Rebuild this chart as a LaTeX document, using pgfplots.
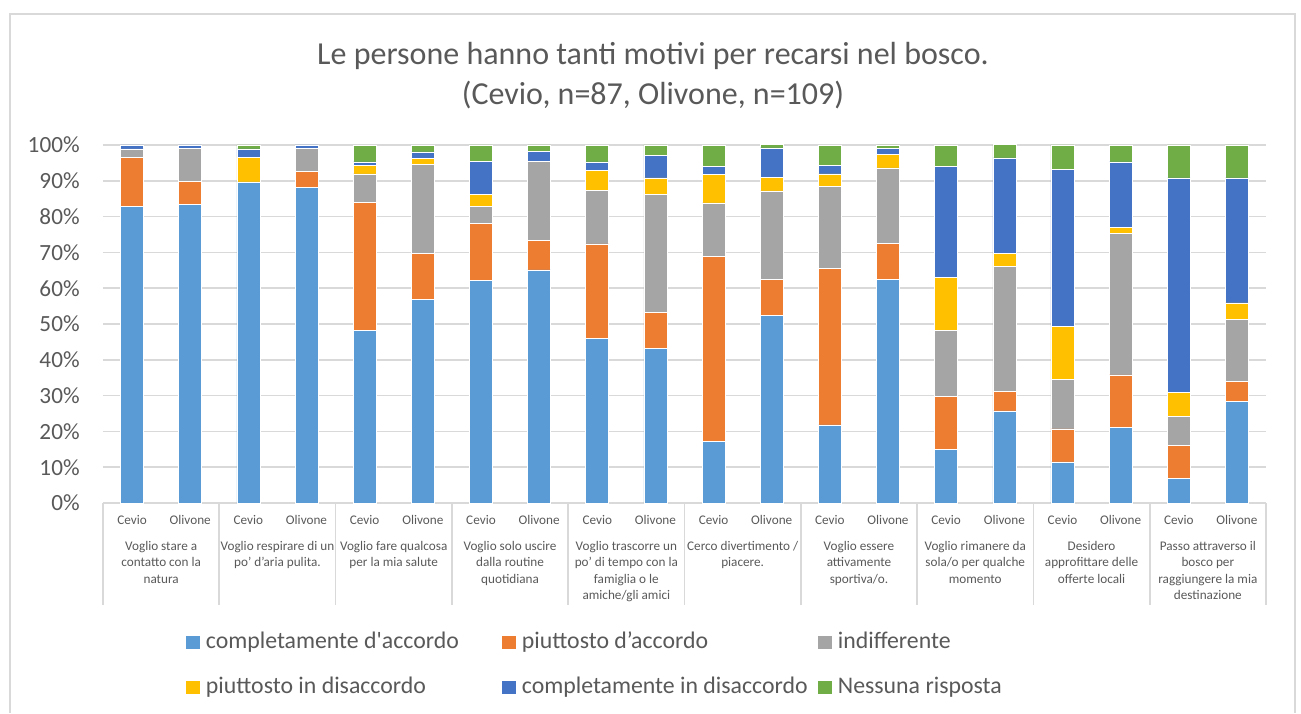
\documentclass[border=0pt]{standalone}
\usepackage{fontspec}
\setmainfont{Carlito}
\usepackage{pgfplots}
\usepackage{pgfplotstable}
\pgfplotsset{compat=1.18}

\definecolor{cA}{HTML}{5B9BD5}
\definecolor{cB}{HTML}{ED7D31}
\definecolor{cC}{HTML}{A5A5A5}
\definecolor{cD}{HTML}{FFC000}
\definecolor{cE}{HTML}{4472C4}
\definecolor{cF}{HTML}{70AD47}
\definecolor{txt}{HTML}{595959}
\definecolor{gridc}{HTML}{D9D9D9}

% percent of answers, Cevio (n=87) and Olivone (n=109) alternating
\pgfplotstableread{
x  a     b     c     d     e     f
0  82.8  13.8  2.3   0     1.1   0
1  83.5  6.4   9.2   0     0.9   0
2  89.7  0     0     6.9   2.3   1.1
3  88.1  4.6   6.4   0     0.9   0
4  48.3  35.6  8.0   2.3   1.1   4.6
5  56.9  12.8  24.8  1.8   1.8   1.8
6  62.1  16.1  4.6   3.4   9.2   4.6
7  65.1  8.3   22.0  0     2.8   1.8
8  46.0  26.4  14.9  5.7   2.3   4.6
9  43.1  10.1  33.0  4.6   6.4   2.8
10 17.2  51.7  14.9  8.0   2.3   5.7
11 52.3  10.1  24.8  3.7   8.3   0.9
12 21.8  43.7  23.0  3.4   2.3   5.7
13 62.4  10.1  21.1  3.7   1.8   0.9
14 14.9  14.9  18.4  14.9  31.0  5.7
15 25.7  5.5   34.9  3.7   26.6  3.7
16 11.5  9.2   13.8  14.9  43.7  6.9
17 21.1  14.7  39.4  1.8   18.3  4.6
18 6.9   9.2   8.0   6.9   59.8  9.2
19 28.4  5.5   17.4  4.6   34.9  9.2
}\data

\newcommand{\catfont}{\fontsize{6.6}{8.15}\selectfont}
\tikzset{grp/.style={anchor=north, align=center, inner sep=0pt,
    font=\catfont, text=txt, yshift=-19pt}}

\begin{document}
\begin{tikzpicture}
\path[use as bounding box] (0,0) rectangle (650.5pt,356.5pt);
\draw[gridc, line width=0.8pt] (5pt,0) -- (5pt,349.5pt) -- (647.5pt,349.5pt) -- (647.5pt,0);

\node[text=txt, anchor=base, font=\fontsize{16}{20}\selectfont] at (326.5pt,324pt)
  {Le persone hanno tanti motivi per recarsi nel bosco.};
\node[text=txt, anchor=base, font=\fontsize{16}{20}\selectfont] at (326.5pt,304pt)
  {(Cevio, n=87, Olivone, n=109)};

\begin{axis}[
    at={(51.5pt,105pt)}, anchor=south west,
    scale only axis, width=581.5pt, height=179pt,
    ybar stacked, bar width=0.396,
    xmin=-0.5, xmax=19.5, ymin=0, ymax=100,
    clip=false,
    axis line style={draw=none},
    major tick length=0pt,
    ytick={0,10,...,100},
    yticklabel={\pgfmathprintnumber{\tick}\%},
    /pgf/number format/assume math mode=true,
    ymajorgrids, grid style={gridc, line width=0.8pt},
    yticklabel style={anchor=east, inner sep=0pt, xshift=-11.5pt,
        font=\fontsize{11.6}{14}\selectfont, text=txt},
    xtick={0,...,19},
    xticklabels={Cevio,Olivone,Cevio,Olivone,Cevio,Olivone,Cevio,Olivone,Cevio,Olivone,
                 Cevio,Olivone,Cevio,Olivone,Cevio,Olivone,Cevio,Olivone,Cevio,Olivone},
    xticklabel style={anchor=center, inner sep=0pt, yshift=-8.5pt,
        font=\catfont, text=txt},
    legend columns=3,
    legend cell align=left,
    legend image code/.code={\fill[#1, draw=none] (0pt,-3.25pt) rectangle (6.75pt,3.25pt);},
    legend style={draw=none, inner sep=0pt, column sep=0pt, row sep=12pt,
        at={(axis description cs:0,0)}, anchor=north west,
        xshift=41.5pt, yshift=-64.5pt,
        cells={anchor=west},
        nodes={inner sep=0pt, text height=8pt, text depth=2.5pt,
               font=\fontsize{11.9}{14}\selectfont, text=txt}},
]
\addplot[fill=cA, draw=white, line width=0.3pt] table[x=x, y=a] {\data};
\addlegendentry{\makebox[151.25pt][l]{\hspace*{3pt}completamente d\textquotesingle accordo}}
\addplot[fill=cB, draw=white, line width=0.3pt] table[x=x, y=b] {\data};
\addlegendentry{\makebox[151.25pt][l]{\hspace*{3pt}piuttosto d’accordo}}
\addplot[fill=cC, draw=white, line width=0.3pt] table[x=x, y=c] {\data};
\addlegendentry{\hspace*{3pt}indifferente}
\addplot[fill=cD, draw=white, line width=0.3pt] table[x=x, y=d] {\data};
\addlegendentry{\makebox[151.25pt][l]{\hspace*{3pt}piuttosto in disaccordo}}
\addplot[fill=cE, draw=white, line width=0.3pt] table[x=x, y=e] {\data};
\addlegendentry{\makebox[151.25pt][l]{\hspace*{3pt}completamente in disaccordo}}
\addplot[fill=cF, draw=white, line width=0.3pt] table[x=x, y=f] {\data};
\addlegendentry{\hspace*{3pt}Nessuna risposta}

\pgfplotsinvokeforeach{0,...,10}{
  \draw[gridc, line width=0.8pt] (axis cs:{2*#1-0.5},0) -- ++(0pt,-51pt);
}
\node[grp] at (axis cs:0.5,0)  {Voglio stare a\\contatto con la\\natura};
\node[grp] at (axis cs:2.5,0)  {Voglio respirare di un\\po’ d’aria pulita.};
\node[grp] at (axis cs:4.5,0)  {Voglio fare qualcosa\\per la mia salute};
\node[grp] at (axis cs:6.5,0)  {Voglio solo uscire\\dalla routine\\quotidiana};
\node[grp] at (axis cs:8.5,0)  {Voglio trascorre un\\po’ di tempo con la\\famiglia o le\\amiche/gli amici};
\node[grp] at (axis cs:10.5,0) {Cerco divertimento /\\piacere.};
\node[grp] at (axis cs:12.5,0) {Voglio essere\\attivamente\\sportiva/o.};
\node[grp] at (axis cs:14.5,0) {Voglio rimanere da\\sola/o per qualche\\momento};
\node[grp] at (axis cs:16.5,0) {Desidero\\approfittare delle\\offerte locali};
\node[grp] at (axis cs:18.5,0) {Passo attraverso il\\bosco per\\raggiungere la mia\\destinazione};
\end{axis}
\end{tikzpicture}
\end{document}
